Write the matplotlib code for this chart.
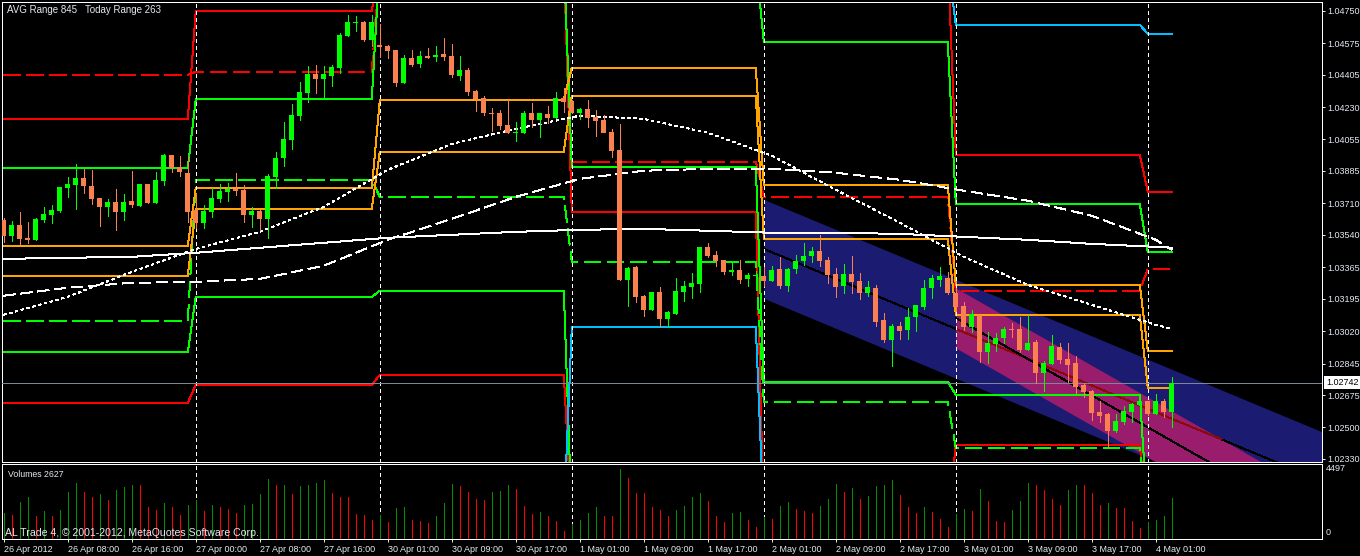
import numpy as np
import matplotlib
matplotlib.use("Agg")
import matplotlib.pyplot as plt
from matplotlib.patches import Rectangle

plt.rcParams['font.family'] = ['Liberation Sans', 'DejaVu Sans']
plt.rcParams['lines.scale_dashes'] = False

# ---------------------------------------------------------------- data
# EURCHF-style H1 bars, 26 Apr 2012 00:00 .. 4 May 2012 02:00
opens = np.array([
    1.03621, 1.03535, 1.03594, 1.03524, 1.03513, 1.03621, 1.03648, 1.03670, 1.03794, 1.03810,
    1.03848, 1.03805, 1.03740, 1.03691, 1.03718, 1.03664, 1.03724, 1.03697, 1.03815, 1.03713,
    1.03832, 1.03972, 1.03907, 1.03875, 1.03675, 1.03605, 1.03664, 1.03734, 1.03772, 1.03788,
    1.03783, 1.03648, 1.03670, 1.03626, 1.03853, 1.03956, 1.04053, 1.04183, 1.04307, 1.04409,
    1.04382, 1.04399, 1.04442, 1.04615, 1.04685, 1.04690, 1.04593, 1.04566, 1.04561, 1.04539,
    1.04361, 1.04496, 1.04463, 1.04507, 1.04501, 1.04517, 1.04507, 1.04399, 1.04431, 1.04318,
    1.04280, 1.04199, 1.04199, 1.04134, 1.04091, 1.04091, 1.04199, 1.04161, 1.04193, 1.04172,
    1.04280, 1.04264, 1.04199, 1.04220, 1.04177, 1.04161, 1.04096, 1.03999, 1.03297, 1.03367,
    1.03211, 1.03135, 1.03232, 1.03086, 1.03113, 1.03232, 1.03259, 1.03275, 1.03475, 1.03432,
    1.03405, 1.03340, 1.03351, 1.03302, 1.03319, 1.03319, 1.03292, 1.03356, 1.03265, 1.03356,
    1.03400, 1.03427, 1.03454, 1.03405, 1.03329, 1.03265, 1.03329, 1.03292, 1.03227, 1.03254,
    1.03081, 1.02973, 1.03049, 1.03027, 1.03097, 1.03151, 1.03254, 1.03297, 1.03308, 1.03227,
    1.03157, 1.03043, 1.03108, 1.02908, 1.02951, 1.02984, 1.03032, 1.03032, 1.02919, 1.02962,
    1.02795, 1.02843, 1.02935, 1.02870, 1.02849, 1.02730, 1.02697, 1.02584, 1.02573, 1.02482,
    1.02530, 1.02584, 1.02622, 1.02644, 1.02573, 1.02644, 1.02584])
highs = np.array([
    1.03632, 1.03616, 1.03664, 1.03610, 1.03632, 1.03691, 1.03702, 1.03799, 1.03853, 1.03923,
    1.03896, 1.03891, 1.03740, 1.03734, 1.03788, 1.03761, 1.03886, 1.03815, 1.03815, 1.03880,
    1.03977, 1.03972, 1.03967, 1.03967, 1.03767, 1.03702, 1.03794, 1.03815, 1.03821, 1.03875,
    1.03810, 1.03691, 1.03675, 1.03869, 1.03988, 1.04150, 1.04247, 1.04366, 1.04453, 1.04458,
    1.04453, 1.04458, 1.04631, 1.04728, 1.04723, 1.04696, 1.04728, 1.04679, 1.04566, 1.04539,
    1.04512, 1.04539, 1.04534, 1.04550, 1.04561, 1.04604, 1.04571, 1.04507, 1.04442, 1.04323,
    1.04291, 1.04226, 1.04215, 1.04269, 1.04150, 1.04210, 1.04253, 1.04199, 1.04237, 1.04312,
    1.04334, 1.04269, 1.04226, 1.04269, 1.04215, 1.04188, 1.04112, 1.04139, 1.03367, 1.03373,
    1.03216, 1.03232, 1.03259, 1.03130, 1.03308, 1.03292, 1.03335, 1.03475, 1.03497, 1.03454,
    1.03405, 1.03394, 1.03405, 1.03335, 1.03346, 1.03367, 1.03373, 1.03421, 1.03362, 1.03432,
    1.03497, 1.03475, 1.03540, 1.03421, 1.03362, 1.03383, 1.03427, 1.03335, 1.03292, 1.03270,
    1.03119, 1.03059, 1.03070, 1.03146, 1.03162, 1.03297, 1.03324, 1.03367, 1.03340, 1.03254,
    1.03178, 1.03135, 1.03108, 1.03016, 1.03011, 1.03043, 1.03065, 1.03097, 1.03108, 1.02973,
    1.02860, 1.03000, 1.02957, 1.02957, 1.02887, 1.02741, 1.02703, 1.02644, 1.02579, 1.02573,
    1.02617, 1.02633, 1.02665, 1.02644, 1.02681, 1.02654, 1.02773])
lows = np.array([
    1.03502, 1.03508, 1.03491, 1.03497, 1.03513, 1.03610, 1.03605, 1.03664, 1.03745, 1.03680,
    1.03767, 1.03707, 1.03589, 1.03643, 1.03567, 1.03621, 1.03691, 1.03697, 1.03713, 1.03713,
    1.03810, 1.03880, 1.03859, 1.03610, 1.03578, 1.03578, 1.03637, 1.03718, 1.03724, 1.03756,
    1.03610, 1.03583, 1.03567, 1.03524, 1.03794, 1.03913, 1.04004, 1.04161, 1.04258, 1.04307,
    1.04274, 1.04345, 1.04415, 1.04615, 1.04642, 1.04588, 1.04561, 1.04501, 1.04496, 1.04345,
    1.04361, 1.04453, 1.04447, 1.04496, 1.04480, 1.04485, 1.04393, 1.04377, 1.04296, 1.04210,
    1.04188, 1.04102, 1.04112, 1.04091, 1.04048, 1.04091, 1.04123, 1.04069, 1.04145, 1.04172,
    1.04204, 1.04199, 1.04166, 1.04123, 1.04075, 1.04096, 1.03961, 1.03297, 1.03157, 1.03178,
    1.03103, 1.03135, 1.03043, 1.03043, 1.03113, 1.03184, 1.03200, 1.03232, 1.03421, 1.03373,
    1.03329, 1.03324, 1.03281, 1.03265, 1.03281, 1.03265, 1.03292, 1.03254, 1.03238, 1.03335,
    1.03378, 1.03394, 1.03373, 1.03281, 1.03205, 1.03227, 1.03227, 1.03194, 1.03211, 1.03049,
    1.02962, 1.02833, 1.02978, 1.02978, 1.03022, 1.03140, 1.03200, 1.03265, 1.03221, 1.03135,
    1.03027, 1.03016, 1.02854, 1.02849, 1.02914, 1.02957, 1.02989, 1.02908, 1.02919, 1.02741,
    1.02698, 1.02843, 1.02849, 1.02746, 1.02687, 1.02665, 1.02541, 1.02530, 1.02390, 1.02476,
    1.02519, 1.02530, 1.02573, 1.02568, 1.02573, 1.02557, 1.02503])
closes = np.array([
    1.03535, 1.03594, 1.03518, 1.03513, 1.03626, 1.03653, 1.03675, 1.03799, 1.03815, 1.03848,
    1.03805, 1.03734, 1.03691, 1.03718, 1.03664, 1.03718, 1.03702, 1.03815, 1.03713, 1.03837,
    1.03972, 1.03902, 1.03880, 1.03664, 1.03605, 1.03670, 1.03740, 1.03778, 1.03788, 1.03778,
    1.03648, 1.03670, 1.03626, 1.03859, 1.03956, 1.04058, 1.04188, 1.04312, 1.04409, 1.04382,
    1.04409, 1.04447, 1.04620, 1.04690, 1.04690, 1.04593, 1.04690, 1.04555, 1.04534, 1.04361,
    1.04496, 1.04458, 1.04507, 1.04496, 1.04512, 1.04501, 1.04404, 1.04431, 1.04312, 1.04274,
    1.04199, 1.04193, 1.04129, 1.04091, 1.04096, 1.04199, 1.04161, 1.04199, 1.04172, 1.04280,
    1.04258, 1.04199, 1.04220, 1.04172, 1.04156, 1.04091, 1.03994, 1.03297, 1.03362, 1.03205,
    1.03135, 1.03232, 1.03086, 1.03124, 1.03238, 1.03265, 1.03281, 1.03475, 1.03427, 1.03400,
    1.03340, 1.03351, 1.03297, 1.03324, 1.03324, 1.03292, 1.03351, 1.03265, 1.03356, 1.03400,
    1.03427, 1.03454, 1.03400, 1.03324, 1.03259, 1.03329, 1.03286, 1.03227, 1.03259, 1.03070,
    1.02973, 1.03049, 1.03022, 1.03097, 1.03162, 1.03254, 1.03308, 1.03319, 1.03227, 1.03151,
    1.03043, 1.03113, 1.02908, 1.02957, 1.02984, 1.03032, 1.03027, 1.02919, 1.02957, 1.02795,
    1.02849, 1.02941, 1.02865, 1.02838, 1.02719, 1.02692, 1.02579, 1.02563, 1.02482, 1.02536,
    1.02590, 1.02627, 1.02644, 1.02573, 1.02644, 1.02584, 1.02742])
volumes = np.array([
    1636, 1485, 2324, 2647, 1420, 1743, 1420, 1808, 3013, 3615,
    2970, 2647, 2841, 2496, 3142, 3293, 3486, 3443, 2001, 1808,
    2260, 2001, 1485, 2130, 2496, 1743, 2130, 2001, 1915, 1614,
    2174, 2195, 2862, 3852, 3443, 3465, 2862, 3400, 3443, 3594,
    3788, 2905, 2690, 2647, 1549, 1485, 1162, 1528, 1033, 1958,
    2044, 1205, 1098, 968, 1420, 2260, 3529, 3357, 3013, 2561,
    2496, 3013, 3077, 3422, 3206, 2066, 1549, 1722, 1420, 1098,
    452, 904, 1162, 1636, 2001, 1463, 1420, 4497, 3938, 2905,
    2905, 2001, 1851, 1420, 1808, 2109, 2647, 2948, 2389, 1420,
    1033, 1614, 1679, 1205, 710, 1399, 1270, 2109, 2324, 1915,
    1786, 1614, 2066, 2518, 3529, 3013, 3228, 2518, 2712, 3400,
    3465, 3788, 2776, 2001, 1614, 2044, 1722, 1270, 710, 1592,
    1915, 1786, 3206, 2389, 1098, 1033, 1851, 2389, 3594, 3422,
    3142, 2561, 2174, 3142, 3465, 3465, 2927, 2174, 2303, 1980,
    1937, 1076, 624, 1011, 1141, 1463, 2627])

# time axis
label_bars = [0, 8, 16, 24, 32, 40, 48, 56, 64, 72, 80, 88, 96, 104, 112, 120, 128, 136, 144]
date_labels = ["26 Apr 2012", "26 Apr 08:00", "26 Apr 16:00", "27 Apr 00:00", "27 Apr 08:00",
               "27 Apr 16:00", "30 Apr 01:00", "30 Apr 09:00", "30 Apr 17:00", "1 May 01:00",
               "1 May 09:00", "1 May 17:00", "2 May 01:00", "2 May 09:00", "2 May 17:00",
               "3 May 01:00", "3 May 09:00", "3 May 17:00", "4 May 01:00"]
day_first_bar = [0, 24, 47, 71, 95, 119, 143]      # first bar of each trading day
separator_bars = day_first_bar[1:]

price_ticks = [1.04750, 1.04575, 1.04405, 1.04230, 1.04055, 1.03885, 1.03710, 1.03540,
               1.03365, 1.03195, 1.03020, 1.02845, 1.02675, 1.02500, 1.02330]
volume_max = 4497

# daily levels of the range indicator (one value per trading day)
red_1 = [1.04166, 1.04750, 1.05025, 1.05025, 1.05025, 1.03972, 1.03772]
red_2 = [1.05025, 1.05025, 1.05025, 1.03664, 1.02000, 1.02000, 1.02000]
red_3 = [1.02633, 1.02730, 1.02784, 1.02000, 1.02000, 1.02406, 1.02000]
red_dash = [1.04404, 1.04420, 1.05025, 1.03934, 1.03745, 1.03238, 1.03356]
green_1 = [1.03902, 1.04274, 1.05025, 1.05025, 1.04582, 1.03707, 1.03448]
green_2 = [1.05025, 1.05025, 1.05025, 1.03907, 1.02746, 1.02676, 1.02000]
green_3 = [1.02908, 1.03205, 1.03238, 1.02000, 1.02000, 1.02000, 1.02000]
green_dash = [1.03076, 1.03837, 1.03745, 1.03394, 1.02638, 1.02390, 1.02000]
orange_1 = [1.03481, 1.03794, 1.04269, 1.04442, 1.03810, 1.03270, 1.02914]
orange_2 = [1.03319, 1.03680, 1.03988, 1.04291, 1.03518, 1.03108, 1.02714]
cyan_1 = [1.02000, 1.02000, 1.02000, 1.03043, 1.02000, 1.02000, 1.02000]
cyan_2 = [1.05025, 1.05025, 1.05025, 1.05025, 1.05025, 1.04674, 1.04625]

# moving averages sampled every 8 bars
ma_bars = [0, 8, 16, 24, 32, 40, 48, 56, 64, 72, 80, 88, 96, 104, 112, 120, 128, 136, 144, 146]
ma_fast = [1.03108, 1.03205, 1.03340, 1.03464, 1.03556, 1.03691, 1.03891, 1.04031, 1.04112, 1.04183,
           1.04166, 1.04091, 1.03967, 1.03783, 1.03605, 1.03421, 1.03270, 1.03162, 1.03054, 1.03032]
ma_mid = [1.03211, 1.03254, 1.03281, 1.03286, 1.03302, 1.03373, 1.03513, 1.03626, 1.03745, 1.03842,
          1.03886, 1.03896, 1.03896, 1.03875, 1.03837, 1.03778, 1.03724, 1.03643, 1.03513, 1.03459]
ma_slow = [1.03410, 1.03416, 1.03421, 1.03443, 1.03470, 1.03497, 1.03524, 1.03540, 1.03556, 1.03567,
           1.03572, 1.03562, 1.03551, 1.03551, 1.03545, 1.03529, 1.03513, 1.03491, 1.03475, 1.03470]

# regression channels: anchor bars, mid-line prices at the anchors, half width
blue_anchor = (95, 146)
blue_mid = (1.03464, 1.02547)
blue_half = 0.00267
pink_anchor = (119, 146)
pink_mid = (1.03091, 1.02427)
pink_half = 0.00162

# ---------------------------------------------------------------- figure
W, H = 1360, 556
PX = 0.72                      # one pixel expressed in points at 100 dpi
TXT = '#E4EAF0'
fig = plt.figure(figsize=(W / 100, H / 100), dpi=100, facecolor='black')


def frame(l, t, r, b):
    return [l / W, 1 - b / H, (r - l) / W, (b - t) / H]


ax = fig.add_axes(frame(2, 2, 1322, 461.5), facecolor='black')
axv = fig.add_axes(frame(2, 463.5, 1322, 538.7), facecolor='black')

n = len(closes)
bars = np.arange(n)
x_lo, x_hi = -0.225, 164.775
for a in (ax, axv):
    a.set_xlim(x_lo, x_hi)
    for s in a.spines.values():
        s.set_color('white')
        s.set_linewidth(PX)
ax.set_ylim(1.02316, 1.04797)
axv.set_ylim(-46, 4855)

# regression channels
def channel(anchor, mid, half, color):
    xs = np.linspace(anchor[0], x_hi, 400)
    slope = (mid[1] - mid[0]) / (anchor[1] - anchor[0])
    c = mid[0] + slope * (xs - anchor[0])
    ax.fill_between(xs, c - half, c + half, color=color, lw=0, zorder=1, antialiased=False)
    return xs, c, slope


bx, bc, bslope = channel(blue_anchor, blue_mid, blue_half, '#1B1B72')
px_, pc, pslope = channel(pink_anchor, pink_mid, pink_half, '#9A1C6C')
ax.plot(bx, bc, color='black', lw=PX, zorder=1.5, antialiased=False)
ax.plot(px_, pc, color='black', lw=PX, zorder=1.6, antialiased=False)
# part of the blue mid-line lying inside the pink band
b_at_p0 = blue_mid[0] + bslope * (pink_anchor[0] - blue_anchor[0])
x_exit = pink_anchor[0] + (b_at_p0 - pink_mid[0] - pink_half) / (pslope - bslope)
inside = (bx >= pink_anchor[0]) & (bx <= x_exit)
ax.plot(bx[inside], bc[inside], color='#8B0A0A', lw=PX, zorder=1.55, antialiased=False)

# daily levels
day_len = np.diff(day_first_bar + [n])
dash = (0, (12.2, 5.0))
levels = [
    (red_1, '#FF0000', '-'), (red_2, '#FF0000', '-'), (red_3, '#FF0000', '-'),
    (red_dash, '#FF0000', dash),
    (green_1, '#00FF00', '-'), (green_2, '#00FF00', '-'), (green_3, '#00FF00', '-'),
    (green_dash, '#00FF00', dash),
    (orange_1, '#FFA500', '-'), (orange_2, '#FFA500', '-'),
    (cyan_1, '#00BFFF', '-'), (cyan_2, '#00BFFF', '-'),
]
for vals, col, ls in levels:
    ax.plot(bars, np.repeat(vals, day_len), color=col, lw=PX, ls=ls, zorder=2,
            antialiased=False)

# moving averages
ax.plot(ma_bars, ma_slow, color='white', lw=PX, zorder=2.2, antialiased=False)
ax.plot(ma_bars, ma_mid, color='white', lw=PX, ls=(0, (8.6, 3.6)), zorder=2.2, antialiased=False)
ax.plot(ma_bars, ma_fast, color='white', lw=PX, ls=(0, (1.8, 2.5)), zorder=2.2, antialiased=False)

# period separators
for b in separator_bars:
    for a in (ax, axv):
        a.axvline(b, color='white', lw=PX, ls=(0, (2.2, 2.2)), zorder=2.5, antialiased=False)

# bid line
bid = closes[-1]
ax.axhline(bid, color='#778899', lw=PX, zorder=2.6, antialiased=False)

# candles
up = closes >= opens
bull, bear = '#00FF00', '#FA8050'
cols = [bull if u else bear for u in up]
ax.vlines(bars, lows, highs, colors=cols, lw=PX, zorder=5, antialiased=False)
min_body = 0.000054
for i in bars:
    lo = min(opens[i], closes[i])
    h = max(abs(closes[i] - opens[i]), min_body)
    ax.add_patch(Rectangle((i - 0.33, lo), 0.66, h, facecolor=cols[i], edgecolor='none',
                           zorder=5, antialiased=False))

# volumes
vcols = ['#009000'] + ['#009000' if volumes[i] > volumes[i - 1] else '#FF0000'
                       for i in range(1, n)]
axv.vlines(bars, 0, volumes, colors=vcols, lw=PX, zorder=3, antialiased=False)

# price scale
ax.tick_params(axis='x', bottom=False, labelbottom=False)
ax.yaxis.tick_right()
ax.set_yticks(price_ticks)
ax.set_yticklabels([f'{v:.5f}' for v in price_ticks])
ax.tick_params(axis='y', colors=TXT, length=2.2, width=PX, pad=1.6, labelsize=6.5,
               direction='out')
ax.annotate(f'{bid:.5f}', xy=(1, bid), xycoords=ax.get_yaxis_transform(),
            xytext=(4, 0), textcoords='offset pixels', ha='left', va='center',
            fontsize=6.5, color='black', zorder=10, annotation_clip=False,
            bbox=dict(boxstyle='square,pad=0.18', fc='white', ec='none'))

# volume scale
axv.tick_params(axis='y', left=False, right=False, labelleft=False)
axv.annotate(str(volume_max), xy=(1, volume_max), xycoords=axv.get_yaxis_transform(),
             xytext=(4, 0), textcoords='offset pixels', ha='left', va='center',
             fontsize=6.5, color=TXT, annotation_clip=False)
axv.annotate('0', xy=(1, 0), xycoords=axv.get_yaxis_transform(),
             xytext=(4, 1), textcoords='offset pixels', ha='left', va='bottom',
             fontsize=6.5, color=TXT, annotation_clip=False)

# time scale
axv.set_xticks(label_bars)
axv.set_xticklabels(date_labels, ha='left')
axv.tick_params(axis='x', colors=TXT, length=2.2, width=PX, pad=2.2, labelsize=6.5,
                direction='out')

# captions
fig.text(7.3 / W, 1 - 12.6 / H, 'AVG Range 845', color=TXT, fontsize=7.0, va='baseline')
fig.text(85 / W, 1 - 12.6 / H, 'Today Range 263', color=TXT, fontsize=7.0, va='baseline')
fig.text(8 / W, 1 - 477 / H, f'Volumes {volumes[-1]}', color=TXT, fontsize=6.3, va='baseline')
fig.text(5 / W, 1 - 536 / H, 'AL Trade 4, \u00a9 2001-2012, MetaQuotes Software Corp.',
         color=TXT, fontsize=7.6, va='baseline')

fig.savefig('out.png', dpi=100, facecolor='black')
